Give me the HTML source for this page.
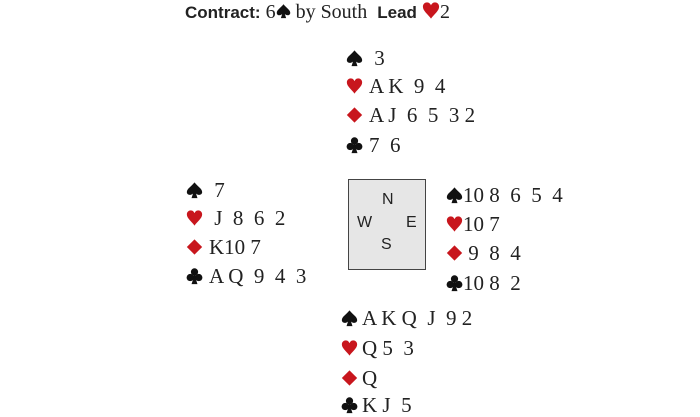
<!DOCTYPE html>
<html><head><meta charset="utf-8"><style>
body{margin:0;width:700px;height:413px;background:#fff;position:relative;overflow:hidden;font-family:"Liberation Serif",serif;color:#222;}
.l{position:absolute;font-size:21px;line-height:24px;white-space:pre;}
.l svg{width:17px;height:18px;vertical-align:-2px;margin-right:6px;}
.t{position:absolute;left:185px;top:1px;font-size:20px;white-space:pre;}
.t svg{width:15px;height:16px;vertical-align:-1px;}
.b{font-family:"Liberation Sans",sans-serif;font-weight:bold;font-size:17px;}
.box{position:absolute;left:348px;top:179px;width:76px;height:89px;background:#e6e6e6;border:1.5px solid #444;}
.d{position:absolute;font-family:"Liberation Sans",sans-serif;font-size:16px;}
</style></head><body>
<svg width="0" height="0" style="position:absolute">
<defs>
<symbol id="S" viewBox="0 0 20 20"><path d="M10 1C6 6 1 8.5 1 12.5C1 15.5 4.5 17 8.2 14.2L6.5 19.5H13.5L11.8 14.2C15.5 17 19 15.5 19 12.5C19 8.5 14 6 10 1Z" fill="#111"/></symbol>
<symbol id="H" viewBox="0 0 20 20"><path d="M10 19C6.5 14 1 10.5 1 5.8C1 2.8 3.3 1 5.6 1C8 1 9.4 2.8 10 4.3C10.6 2.8 12 1 14.4 1C16.7 1 19 2.8 19 5.8C19 10.5 13.5 14 10 19Z" fill="#c8161d"/></symbol>
<symbol id="D" viewBox="0 0 20 20"><path d="M10 1L19 10L10 19L1 10Z" fill="#c8161d"/></symbol>
<symbol id="C" viewBox="0 0 20 20"><g fill="#111"><circle cx="10" cy="5.2" r="4.3"/><circle cx="5" cy="11.8" r="4.3"/><circle cx="15" cy="11.8" r="4.3"/><rect x="8.6" y="6" width="2.8" height="8"/><path d="M9 12L6.5 19.5H13.5L11 12Z"/></g></symbol>
</defs></svg>

<div class="t"><span class="b">Contract:</span> 6<svg><use href="#S"/></svg> by South  <span class="b">Lead</span> <svg style="width:18px;height:19px;vertical-align:-2px"><use href="#H"/></svg>2</div>

<div class="l" style="left:346px;top:46px"><svg><use href="#S"/></svg> 3</div>
<div class="l" style="left:346px;top:74px"><svg><use href="#H"/></svg>A K  9  4</div>
<div class="l" style="left:346px;top:103px"><svg><use href="#D"/></svg>A J  6  5  3 2</div>
<div class="l" style="left:346px;top:133px"><svg><use href="#C"/></svg>7  6</div>

<div class="l" style="left:186px;top:178px"><svg><use href="#S"/></svg> 7</div>
<div class="l" style="left:186px;top:206px"><svg><use href="#H"/></svg> J  8  6  2</div>
<div class="l" style="left:186px;top:235px"><svg><use href="#D"/></svg>K10 7</div>
<div class="l" style="left:186px;top:264px"><svg><use href="#C"/></svg>A Q  9  4  3</div>

<div class="box">
<div class="d" style="left:33px;top:11px">N</div>
<div class="d" style="left:8px;top:34px">W</div>
<div class="d" style="left:57px;top:34px">E</div>
<div class="d" style="left:32px;top:56px">S</div>
</div>

<div class="l" style="left:446px;top:183px"><svg style="margin-right:0"><use href="#S"/></svg>10 8  6  5  4</div>
<div class="l" style="left:446px;top:212px"><svg style="margin-right:0"><use href="#H"/></svg>10 7</div>
<div class="l" style="left:446px;top:241px"><svg style="margin-right:0"><use href="#D"/></svg> 9  8  4</div>
<div class="l" style="left:446px;top:271px"><svg style="margin-right:0"><use href="#C"/></svg>10 8  2</div>

<div class="l" style="left:341px;top:306px"><svg style="margin-right:4px"><use href="#S"/></svg>A K Q  J  9 2</div>
<div class="l" style="left:341px;top:336px"><svg style="margin-right:4px"><use href="#H"/></svg>Q 5  3</div>
<div class="l" style="left:341px;top:366px"><svg style="margin-right:4px"><use href="#D"/></svg>Q</div>
<div class="l" style="left:341px;top:393px"><svg style="margin-right:4px"><use href="#C"/></svg>K J  5</div>
</body></html>
